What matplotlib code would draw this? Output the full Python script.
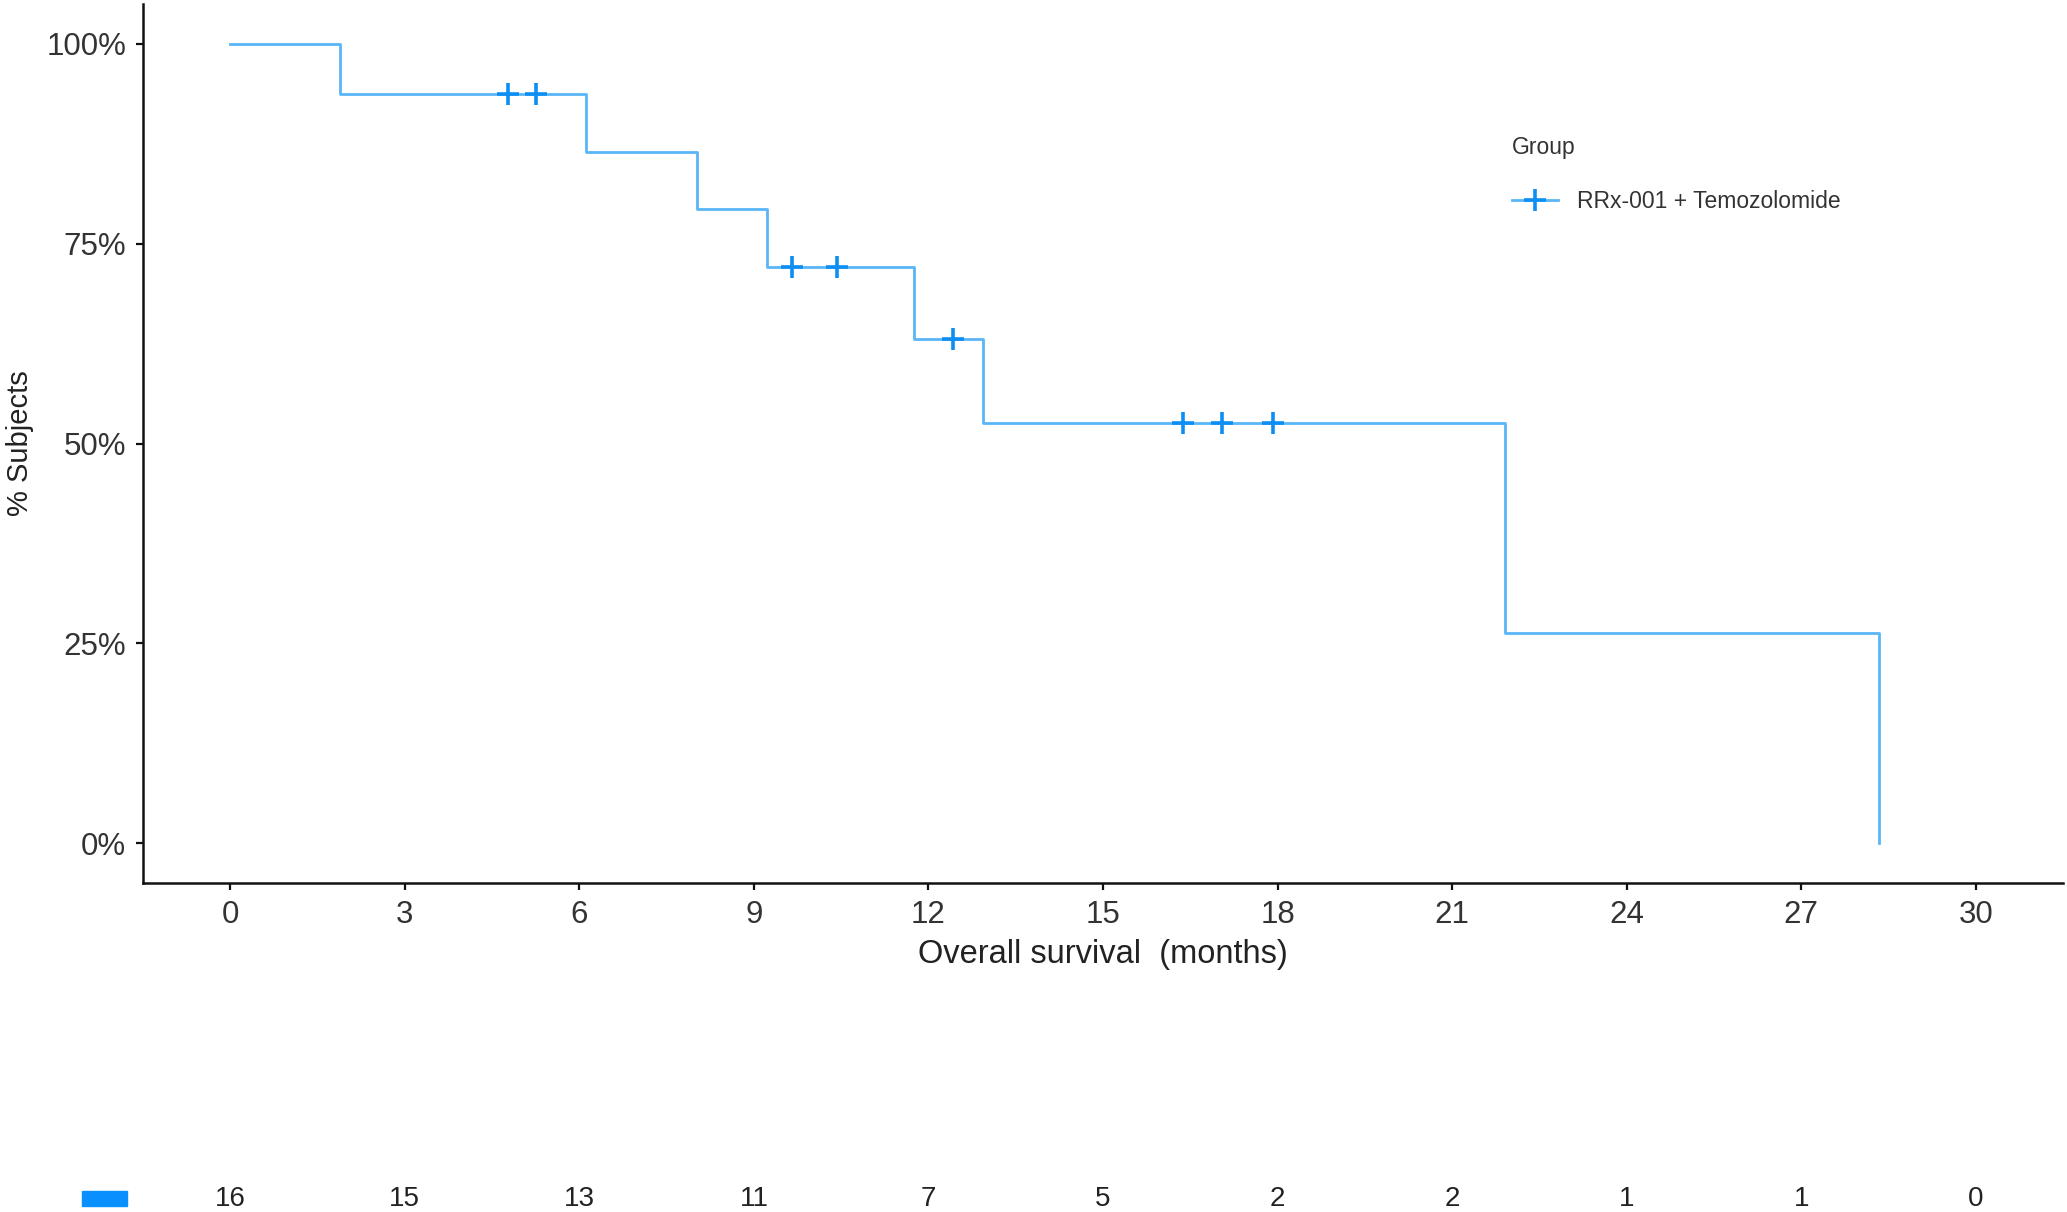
import matplotlib
matplotlib.use("Agg")
import matplotlib.pyplot as plt
from matplotlib.lines import Line2D
from matplotlib.patches import Rectangle
from matplotlib.ticker import PercentFormatter
import matplotlib.transforms as mtransforms

plt.rcParams['font.family'] = ['Liberation Sans', 'DejaVu Sans']

# Kaplan-Meier steps (months, survival fraction)
step_times = [0, 1.88, 6.12, 8.03, 9.22, 11.75, 12.93, 21.91, 28.33]
step_surv = [1.0, 0.9375, 0.8654, 0.7933, 0.7212, 0.6310, 0.5258, 0.2629, 0.0]

# censored subjects
censor_times = [4.78, 5.26, 9.66, 10.43, 12.42, 16.37, 17.05, 17.93]
censor_surv = [0.9375, 0.9375, 0.7212, 0.7212, 0.6310, 0.5258, 0.5258, 0.5258]

# numbers at risk
risk_times = [0, 3, 6, 9, 12, 15, 18, 21, 24, 27, 30]
at_risk = [16, 15, 13, 11, 7, 5, 2, 2, 1, 1, 0]

group_name = "RRx-001 + Temozolomide"
line_col = '#5AB6F8'
mark_col = '#0D8EF2'
key_col = '#0A8FFF'

W, H = 2067, 1212
fig = plt.figure(figsize=(W / 100, H / 100), dpi=100)

ax = fig.add_axes([143 / W, 1 - 883 / H, (2063 - 143) / W, (883 - 4) / H])
ax.step(step_times, step_surv, where='post', color=line_col, lw=2.0)
ax.plot(censor_times, censor_surv, ls='none', marker='+', ms=16, mew=2.6,
        color=mark_col)

ax.set_xlim(-1.5, 31.5)
ax.set_ylim(-0.05, 1.05)
ax.set_xticks(risk_times)
ax.set_yticks([0, 0.25, 0.5, 0.75, 1.0])
ax.yaxis.set_major_formatter(PercentFormatter(xmax=1, decimals=0))

for side in ['top', 'right']:
    ax.spines[side].set_visible(False)
for side in ['left', 'bottom']:
    ax.spines[side].set_linewidth(1.8)
    ax.spines[side].set_color('#111111')
ax.tick_params(axis='both', length=5, width=1.6, color='#111111',
               labelsize=22.5, labelcolor='#333333', pad=7)

ax.set_xlabel('Overall survival  (months)', fontsize=23.5, color='#222222',
              labelpad=7)
ax.set_ylabel('% Subjects', fontsize=21, color='#222222', labelpad=9)

handle = Line2D([], [], color=line_col, lw=2.0, marker='+', ms=16, mew=2.6,
                markeredgecolor=mark_col)
leg = ax.legend([handle], [group_name], title='Group', loc='upper left',
                bbox_to_anchor=(1512 / W, 1 - 136 / H),
                bbox_transform=fig.transFigure, frameon=False,
                fontsize=16.5, title_fontsize=16.5, borderpad=0,
                borderaxespad=0, handlelength=2.0, handletextpad=0.85,
                labelspacing=1.35, alignment='left')
for t in leg.get_texts():
    t.set_color('#333333')
leg.get_title().set_color('#333333')

# risk table below the plot
axr = fig.add_axes([143 / W, 0, (2063 - 143) / W, 26 / H])
axr.set_xlim(-1.5, 31.5)
axr.set_ylim(0, 1)
axr.axis('off')
trans = mtransforms.blended_transform_factory(axr.transData, axr.transAxes)
for t, n in zip(risk_times, at_risk):
    axr.text(t, 0.5, str(n), transform=trans, ha='center', va='center',
             fontsize=20, color='#222222')

fig.patches.append(Rectangle((82 / W, 1 - 1206 / H), 45 / W, 15 / H,
                             transform=fig.transFigure, color=key_col))

fig.savefig('out.png', dpi=100)
